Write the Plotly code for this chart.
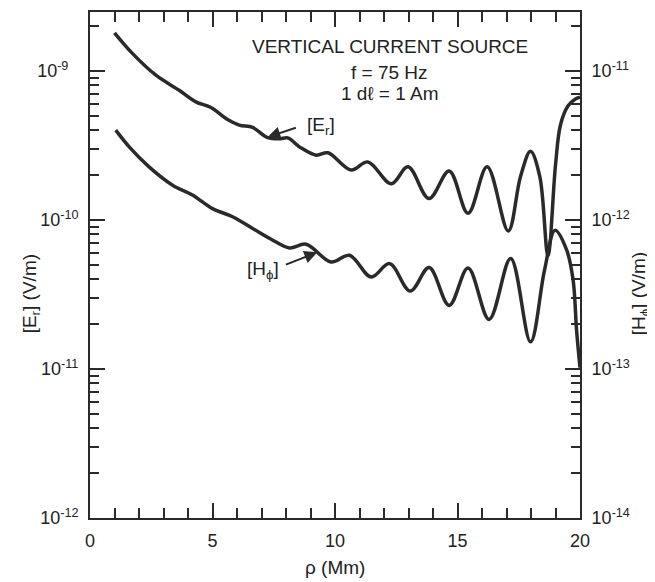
import plotly.graph_objects as go

# ---- data ----
rho_E = [1.0, 1.73, 2.69, 3.64, 4.32, 4.94, 5.55, 6.09, 6.64, 7.25, 7.73, 8.07, 8.55,
         9.23, 9.71, 10.66, 11.34, 12.3, 12.98, 13.84, 14.66, 15.43, 16.21, 17.07,
         17.57, 17.98, 18.36, 18.69, 19.0, 19.2, 19.5, 19.8, 20.0]
E_r = [1.80e-9, 1.31e-9, 9.35e-10, 7.41e-10, 6.19e-10, 5.68e-10, 4.79e-10, 4.33e-10,
       4.17e-10, 3.57e-10, 3.50e-10, 3.55e-10, 3.09e-10, 2.72e-10, 2.82e-10, 2.16e-10,
       2.45e-10, 1.75e-10, 2.27e-10, 1.39e-10, 2.13e-10, 1.11e-10, 2.27e-10, 8.43e-11,
       1.95e-10, 2.89e-10, 1.95e-10, 5.75e-11, 2.33e-10, 4.32e-10, 5.79e-10, 6.46e-10,
       6.65e-10]

rho_H = [1.05, 1.6, 2.41, 3.37, 4.18, 5.0, 5.82, 6.64, 7.46, 8.14, 8.82, 9.84, 10.59,
         11.48, 12.23, 13.07, 13.84, 14.66, 15.43, 16.29, 17.17, 17.98, 18.55, 18.98,
         19.45, 19.72, 19.86, 20.0]
H_phi = [4.0e-12, 3.09e-12, 2.27e-12, 1.71e-12, 1.47e-12, 1.19e-12, 1.05e-12, 8.75e-13,
         7.31e-13, 6.49e-13, 6.87e-13, 5.22e-13, 5.79e-13, 4.14e-13, 5.09e-13, 3.33e-13,
         4.79e-13, 2.67e-13, 4.76e-13, 2.15e-13, 5.51e-13, 1.52e-13, 4.59e-13, 8.51e-13,
         6.31e-13, 3.94e-13, 1.82e-13, 1.02e-13]

x_major = [0, 5, 10, 15, 20]
x_major_text = ["0", "5", "10", "15", "20"]
x_minor = [1, 2, 3, 4, 6, 7, 8, 9, 11, 12, 13, 14, 16, 17, 18, 19]

left_major = [1e-12, 1e-11, 1e-10, 1e-9]
left_text = ["10<sup>-12</sup>", "10<sup>-11</sup>", "10<sup>-10</sup>", "10<sup>-9</sup>  "]
right_major = [1e-14, 1e-13, 1e-12, 1e-11]
right_text = ["10<sup>-14</sup>", "10<sup>-13</sup>", "10<sup>-12</sup>", "10<sup>-11</sup>"]
mantissas = [2, 3, 4, 5, 6, 7, 8, 9]
left_minor = [m * d for d in [1e-12, 1e-11, 1e-10, 1e-9] for m in mantissas if m * d < 2.45e-9]
right_minor = [m * d for d in [1e-14, 1e-13, 1e-12, 1e-11] for m in mantissas if m * d < 2.45e-11]

INK = "#2a2a2a"
FONT = "Liberation Sans, Arial, sans-serif"

fig = go.Figure()
fig.add_trace(go.Scatter(x=rho_E, y=E_r, mode="lines", yaxis="y",
                         line=dict(color=INK, width=3.5, shape="spline", smoothing=1.0),
                         showlegend=False))
fig.add_trace(go.Scatter(x=rho_H, y=H_phi, mode="lines", yaxis="y2",
                         line=dict(color=INK, width=3.5, shape="spline", smoothing=1.0),
                         showlegend=False))

axis_common = dict(showline=True, linecolor=INK, linewidth=2, showgrid=False,
                   zeroline=False, ticks="inside", tickcolor=INK, tickwidth=2,
                   automargin=False,
                   tickfont=dict(family=FONT, size=18, color="#222"))

# page body has an 8px default margin: the figure is sized so the plot frame
# lands at x 90..580, y 12..518 of the window
fig.update_layout(
    width=647, height=574,
    margin=dict(l=82, r=75, t=4, b=64, autoexpand=False),
    paper_bgcolor="white", plot_bgcolor="white",
    font=dict(family=FONT, color="#222"),
    xaxis=dict(range=[0, 20], mirror="ticks", tickmode="array", tickvals=x_major,
               ticktext=x_major_text, ticklen=15, ticklabelstandoff=5,
               minor=dict(tickmode="array", tickvals=x_minor, ticklen=10,
                          ticks="inside", tickcolor=INK, tickwidth=2, showgrid=False),
               **axis_common),
    yaxis=dict(type="log", range=[-12, -8.605], tickmode="array", tickvals=left_major,
               ticktext=left_text, ticklen=15, ticklabelstandoff=6,
               minor=dict(tickmode="array", tickvals=left_minor, ticklen=9,
                          ticks="inside", tickcolor=INK, tickwidth=2, showgrid=False),
               **axis_common),
    yaxis2=dict(type="log", range=[-14, -10.605], overlaying="y", side="right",
                tickmode="array", tickvals=right_major, ticktext=right_text,
                ticklen=15, ticklabelstandoff=6,
                minor=dict(tickmode="array", tickvals=right_minor, ticklen=9,
                           ticks="inside", tickcolor=INK, tickwidth=2, showgrid=False),
                **axis_common),
)

ann_font = dict(family=FONT, size=19, color="#222")
annotations = [
    dict(text="VERTICAL CURRENT SOURCE", x=12.23, y=-8.834),
    dict(text="f = 75 Hz", x=12.23, y=-9.009),
    dict(text="1 d\u2113 = 1 Am", x=12.23, y=-9.15),
    dict(text="[E<sub>r</sub>]", x=9.41, y=-9.371),
    dict(text="[H<sub>\u03d5</sub>]", x=7.08, y=-10.338),
]
for a in annotations:
    fig.add_annotation(xref="x", yref="y", showarrow=False, font=ann_font,
                       xanchor="center", yanchor="middle", **a)

# arrows
fig.add_annotation(xref="x", yref="y", x=7.24, y=-9.445, ax=30, ay=-10, text="",
                   showarrow=True, arrowhead=2, arrowsize=1.3, arrowwidth=2, arrowcolor=INK)
fig.add_annotation(xref="x", yref="y", x=9.28, y=-10.217, ax=-33, ay=13, text="",
                   showarrow=True, arrowhead=2, arrowsize=1.3, arrowwidth=2, arrowcolor=INK)

# axis titles
fig.add_annotation(xref="paper", yref="paper", x=-0.1204, y=0.442, text="[E<sub>r</sub>] (V/m)",
                   textangle=-90, showarrow=False, font=ann_font,
                   xanchor="center", yanchor="middle")
fig.add_annotation(xref="paper", yref="paper", x=1.1225, y=0.442, text="[H<sub>\u03d5</sub>] (V/m)",
                   textangle=-90, showarrow=False, font=ann_font,
                   xanchor="center", yanchor="middle")
fig.add_annotation(xref="paper", yref="paper", x=0.5, y=-0.0988, text="\u03c1 (Mm)",
                   showarrow=False, font=ann_font, xanchor="center", yanchor="middle")

fig.write_html("out.html")
